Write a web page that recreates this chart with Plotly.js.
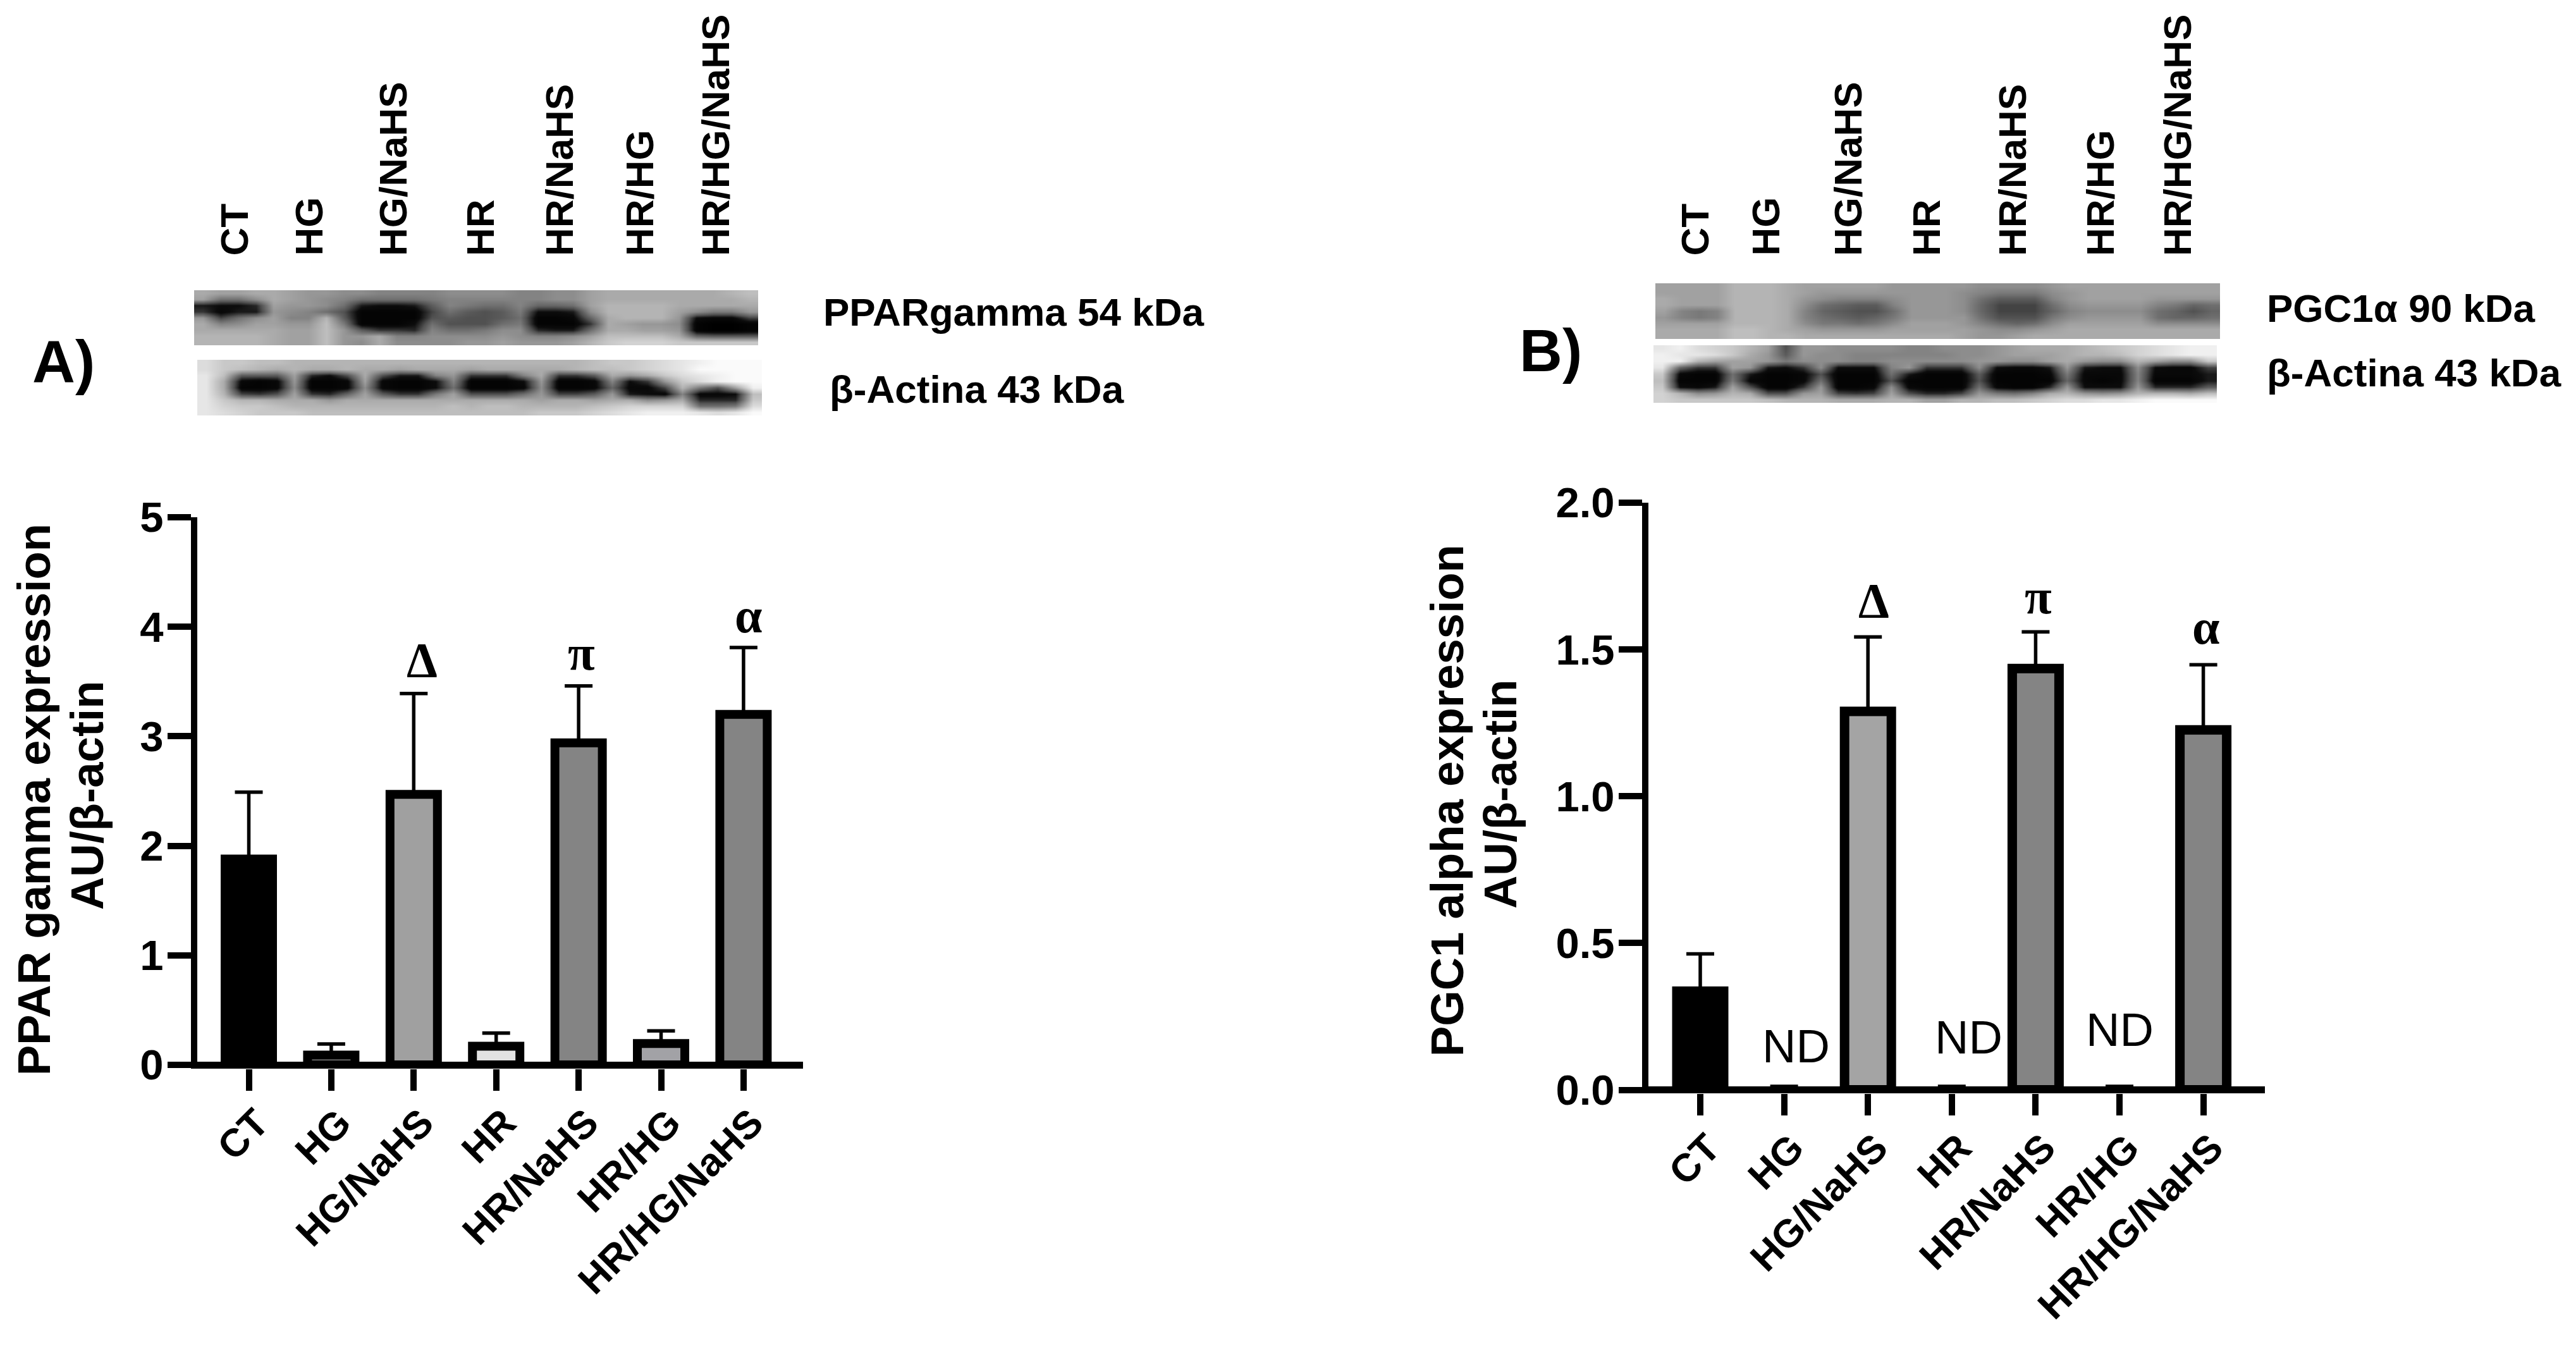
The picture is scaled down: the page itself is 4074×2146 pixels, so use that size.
<!DOCTYPE html>
<html>
<head>
<meta charset="utf-8">
<script src="https://cdn.plot.ly/plotly-3.0.1.min.js"></script>
<style>html,body{margin:0;padding:0;background:#fff}#chart{width:4074px;height:2146px}</style>
</head>
<body>
<div id="chart"></div>
<script>
const groups = ["CT","HG","HG/NaHS","HR","HR/NaHS","HR/HG","HR/HG/NaHS"];

const pparMeans  = [1.88,0.09,2.47,0.17,2.94,0.195,3.20];
const pparErrors = [0.61,0.10,0.92,0.12,0.52,0.115,0.61];
const pparFills  = ["#000000","#808080","#a0a0a0","#e2e2e2","#848484","#a2a2a6","#848484"];

const pgcMeans   = [0.336,0,1.289,0,1.435,0,1.226];
const pgcErrors  = [0.127,0.012,0.254,0.012,0.125,0.012,0.222];
const pgcFills   = ["#000000","#808080","#a4a4a4","#e2e2e2","#848484","#a2a2a6","#848484"];

const pparMarks = [[2.1,3.70,"Δ"],[4.03,3.76,"π"],[6.06,4.10,"α"]];
const pgcMarks  = [[2.07,1.668,"Δ"],[4.03,1.68,"π"],[6.03,1.577,"α"]];
const pgcNotDetected = [[1.14,0.149,"ND"],[3.2,0.179,"ND"],[5,0.205,"ND"]];

const blotPparGamma = [
[17,16,16,17,17,16,15,15,14,14,13,13,13,13,14,14,14,14,13,13,14,14,16,17,17,17,17,17,17,17,18,19],
[16,11,11,14,17,16,15,14,13,11,11,11,11,12,13,13,13,13,13,13,14,14,16,17,17,17,17,17,17,17,17,18],
[4,3,3,5,16,15,15,14,11,4,3,3,4,9,13,12,11,11,13,10,10,11,16,18,18,18,18,17,17,17,17,17],
[6,2,4,4,15,14,13,11,8,1,1,1,1,7,11,9,8,9,12,3,3,4,14,18,18,18,18,16,14,12,12,15],
[15,7,11,14,16,13,13,18,9,1,1,1,1,8,9,8,8,9,11,1,1,2,10,17,18,18,18,15,3,2,2,7],
[17,13,14,16,16,15,15,19,12,1,1,1,3,11,8,8,8,11,12,1,1,1,6,17,16,15,15,14,1,0,0,1],
[17,17,17,17,17,16,16,19,15,9,6,6,5,13,11,11,12,14,14,5,4,4,11,17,17,16,16,15,1,0,0,1],
[18,18,18,18,17,16,16,19,15,15,17,13,13,14,14,14,14,15,14,13,13,14,16,19,19,19,19,17,10,9,9,9],
[18,18,18,18,17,16,16,19,15,14,17,14,14,14,14,15,15,16,15,15,15,16,18,20,21,21,21,20,20,20,20,20]];

const blotActinA = [
[22,20,20,19,19,18,18,18,18,18,18,18,18,18,18,18,18,18,18,18,18,18,19,20,20,21,22,23,24,25,25,25],
[22,20,19,18,17,18,17,17,18,17,17,16,17,17,17,16,17,17,17,17,17,18,19,19,20,21,22,23,25,25,25,25],
[23,19,9,9,9,16,5,3,8,17,8,4,4,13,15,6,6,6,13,17,6,6,9,17,15,17,20,22,23,24,25,25],
[23,17,2,1,2,15,1,1,2,16,2,1,1,3,13,1,1,1,3,15,1,1,2,13,3,6,15,20,22,24,25,25],
[23,17,1,1,2,14,1,1,2,14,2,1,1,3,11,1,1,1,2,14,1,1,2,10,2,2,7,18,12,8,16,24],
[23,18,7,6,8,16,6,5,10,16,9,6,6,12,16,8,8,8,11,15,7,7,9,15,4,3,2,13,2,2,3,19],
[23,20,18,18,17,17,17,15,17,17,17,17,17,17,17,17,17,17,17,16,17,17,16,17,17,14,15,17,5,5,5,20],
[23,21,20,20,19,18,18,18,18,18,18,18,18,18,19,18,19,19,18,18,18,18,19,20,21,21,21,21,11,11,12,22],
[23,22,21,20,20,20,19,19,19,19,19,19,19,19,19,19,19,19,19,20,20,20,21,22,23,24,24,24,23,22,23,25]];

const blotPgc = [
[16,16,16,16,18,18,18,17,16,16,16,16,16,15,15,15,15,15,14,14,14,14,15,16,16,16,16,16,16,16,16,16],
[16,16,16,16,18,18,18,17,16,15,15,15,15,15,15,15,15,14,13,12,12,12,14,15,16,16,16,16,16,16,16,16],
[17,16,16,16,18,18,18,17,15,14,13,13,13,14,15,15,15,14,11,9,9,9,13,15,16,16,16,16,15,15,15,15],
[17,16,16,16,18,18,18,17,14,11,10,9,9,13,15,15,15,14,10,7,7,7,11,14,15,15,15,15,13,12,10,11],
[16,13,12,13,18,18,18,17,13,10,9,8,8,11,15,15,15,14,10,7,7,7,10,13,14,14,14,14,11,10,8,10],
[15,13,12,13,18,18,18,17,13,11,10,9,10,12,15,15,15,15,11,8,8,8,12,14,15,15,15,15,11,10,10,11],
[16,16,16,16,18,18,18,17,14,12,12,11,12,14,16,16,16,15,13,11,10,11,14,16,16,16,16,16,14,14,14,14],
[17,17,17,17,19,19,18,17,16,15,15,15,15,16,16,16,16,16,15,14,14,15,16,17,17,17,17,17,17,17,17,17],
[17,17,17,17,19,19,18,18,17,17,17,17,17,17,17,17,17,16,15,15,16,17,17,17,17,17,17,17,17,17,17,17]];

const blotActinB = [
[23,24,22,21,20,18,16,8,15,15,14,14,14,14,13,13,14,14,14,15,16,17,17,17,18,19,20,21,22,23,24,24],
[24,23,23,22,20,17,15,9,15,14,14,13,13,13,13,13,13,14,14,15,16,16,16,17,18,18,19,21,22,23,24,24],
[24,24,18,16,16,16,15,12,14,14,14,13,13,14,14,14,14,14,15,15,14,14,16,17,15,14,14,18,16,14,14,20],
[23,10,6,6,16,15,4,3,6,14,3,3,3,13,15,6,6,6,14,3,2,2,4,15,4,3,3,14,3,2,2,7],
[20,2,1,1,11,4,1,1,2,8,1,1,1,11,4,1,1,1,9,1,1,1,2,12,2,2,2,13,2,2,2,4],
[19,1,1,1,12,2,1,1,2,11,1,1,1,8,1,1,1,1,8,1,1,1,1,10,2,1,2,13,1,1,1,4],
[20,3,2,4,16,8,1,1,6,15,1,1,2,14,2,1,1,1,11,2,1,1,5,15,3,3,3,15,5,5,5,9],
[21,18,14,15,18,17,8,8,15,16,7,6,7,16,8,5,5,7,15,12,11,13,17,18,15,14,15,18,18,18,17,19],
[21,20,20,20,20,20,19,18,18,18,17,17,17,18,18,16,16,18,18,19,19,20,21,22,22,23,23,24,25,25,25,25]];

const W = 4074, H = 2146;
const fx = p => p / W;
const fy = p => 1 - p / H;
const SANS = "Liberation Sans, Arial, sans-serif";
const SERIF = "Liberation Serif, Times New Roman, serif";

function barTrace(values, errors, fills, lines, xa, ya, width) {
  return {
    type: "bar", x: groups, y: values, xaxis: xa, yaxis: ya, width: width,
    marker: {color: fills, line: {color: "#000", width: lines}},
    error_y: {type: "data", symmetric: false, array: errors, arrayminus: groups.map(() => 0),
              color: "#000", thickness: 5.5, width: 22},
    hoverinfo: "skip", showlegend: false
  };
}
function blotTrace(z, xa, ya) {
  return {type: "heatmap", z: z, xaxis: xa, yaxis: ya, zmin: 0, zmax: 25.5, zsmooth: "best",
          colorscale: [[0, "#000"], [0.12, "#0c0c0c"], [0.31, "#505050"], [1, "#fff"]],
          showscale: false, hoverinfo: "skip"};
}
function xCat(left, right, zeroPx, step) {
  return {
    domain: [fx(left), fx(right)], range: [(left - zeroPx) / step, (right - zeroPx) / step],
    type: "category", categoryorder: "array", categoryarray: groups,
    showline: false, showgrid: false, zeroline: false,
    ticks: "outside", ticklen: 34, tickwidth: 10, tickcolor: "#000", tickangle: -45,
    ticklabelstandoff: -10, ticklabelshift: 13,
    tickfont: {family: SANS, size: 62, color: "#000", weight: 700}
  };
}
function yVal(top, bottom, max, zeroPx, dtick, fmt) {
  const perUnit = (zeroPx - top) / max;
  return {
    domain: [fy(bottom), fy(top)], range: [-(bottom - zeroPx) / perUnit, max],
    showline: true, linewidth: 10, linecolor: "#000", showgrid: false,
    zeroline: true, zerolinewidth: 11, zerolinecolor: "#000",
    ticks: "outside", ticklen: 37, tickwidth: 10, tickcolor: "#000",
    ticklabelstandoff: -7,
    tick0: 0, dtick: dtick, tickformat: fmt,
    tickfont: {family: SANS, size: 67, color: "#000", weight: 700}
  };
}
function hidden(left, right, range) {
  return {domain: [fx(left), fx(right)], range: range, visible: false, fixedrange: true};
}
function hiddenY(top, bottom, range) {
  return {domain: [fy(bottom), fy(top)], range: range, visible: false, fixedrange: true};
}
const pxNote = (x, y, text, size, opts) => Object.assign({
  xref: "paper", yref: "paper", x: fx(x), y: fy(y), text: text, showarrow: false,
  font: {family: SANS, size: size, color: "#000", weight: 700}
}, opts || {});
const dataNote = (m, xr, yr, family, size, weight) => ({
  xref: xr, yref: yr, x: m[0], y: m[1], text: m[2], showarrow: false,
  font: {family: family, size: size, color: "#000", weight: weight}
});

const laneXA = [370,488,621,759,884,1011,1131];
const laneXB = [2680,2792,2922,3046,3182,3321,3443];
const upright = {textangle: -90, xanchor: "center", yanchor: "middle"};
const annotations = [];
groups.forEach((g, i) => {
  annotations.push(pxNote(laneXA[i], 407, g, 62, {textangle: -90, xanchor: "center", yanchor: "bottom"}));
  annotations.push(pxNote(laneXB[i], 407, g, 62, {textangle: -90, xanchor: "center", yanchor: "bottom"}));
});
annotations.push(
  pxNote(1300, 494, "PPARgamma 54 kDa", 62, {xanchor: "left", yanchor: "middle"}),
  pxNote(1310, 615, "β-Actina 43 kDa", 62, {xanchor: "left", yanchor: "middle"}),
  pxNote(3583, 488, "PGC1α 90 kDa", 62, {xanchor: "left", yanchor: "middle"}),
  pxNote(3583, 590, "β-Actina 43 kDa", 62, {xanchor: "left", yanchor: "middle"}),
  pxNote(49, 572, "A)", 94, {xanchor: "left", yanchor: "middle"}),
  pxNote(2401, 554, "B)", 94, {xanchor: "left", yanchor: "middle"}),
  pxNote(53, 1265, "PPAR gamma expression", 72.5, upright),
  pxNote(137, 1258, "AU/β-actin", 72.5, upright),
  pxNote(2288, 1266, "PGC1 alpha expression", 72.5, upright),
  pxNote(2372, 1256, "AU/β-actin", 72.5, upright)
);
pparMarks.forEach(m => annotations.push(dataNote(m, "x", "y", SERIF, 78, 700)));
pgcMarks.forEach(m => annotations.push(dataNote(m, "x2", "y2", SERIF, 78, 700)));
pgcNotDetected.forEach(m => annotations.push(dataNote(m, "x2", "y2", SANS, 74, 400)));

const fullX = [-0.5, 31.5], fullY = [8.5, -0.5];
const data = [
  barTrace(pparMeans, pparErrors, pparFills, 14, "x", "y", 0.575),
  barTrace(pgcMeans, pgcErrors, pgcFills, [15,0,15,0,15,0,15], "x2", "y2", 0.558),
  blotTrace(blotPparGamma, "x3", "y3"),
  blotTrace(blotActinA, "x4", "y4"),
  blotTrace(blotPgc, "x5", "y5"),
  blotTrace(blotActinB, "x6", "y6")
];
const layout = {
  width: W, height: H, autosize: false,
  margin: {l: 0, r: 0, t: 0, b: 0, pad: 0},
  paper_bgcolor: "#fff", plot_bgcolor: "rgba(0,0,0,0)",
  showlegend: false, bargap: 0.4,
  xaxis: xCat(312, 1270, 393.5, 130.4),
  yaxis: yVal(818, 1689.5, 5, 1684, 1, "d"),
  xaxis2: xCat(2607, 3582, 2689, 132.6),
  yaxis2: yVal(795, 1729, 2, 1723.5, 0.5, ".1f"),
  xaxis3: hidden(307, 1199, fullX), yaxis3: hiddenY(459, 546, fullY),
  xaxis4: hidden(312, 1205, fullX), yaxis4: hiddenY(569, 657, fullY),
  xaxis5: hidden(2618, 3511, fullX), yaxis5: hiddenY(448, 536, fullY),
  xaxis6: hidden(2615, 3506, fullX), yaxis6: hiddenY(546, 637, fullY),
  annotations: annotations
};
layout.xaxis2.anchor = "y2"; layout.yaxis2.anchor = "x2";
layout.xaxis3.anchor = "y3"; layout.yaxis3.anchor = "x3";
layout.xaxis4.anchor = "y4"; layout.yaxis4.anchor = "x4";
layout.xaxis5.anchor = "y5"; layout.yaxis5.anchor = "x5";
layout.xaxis6.anchor = "y6"; layout.yaxis6.anchor = "x6";
Plotly.newPlot("chart", data, layout, {displayModeBar: false, responsive: false});
</script>
</body>
</html>
